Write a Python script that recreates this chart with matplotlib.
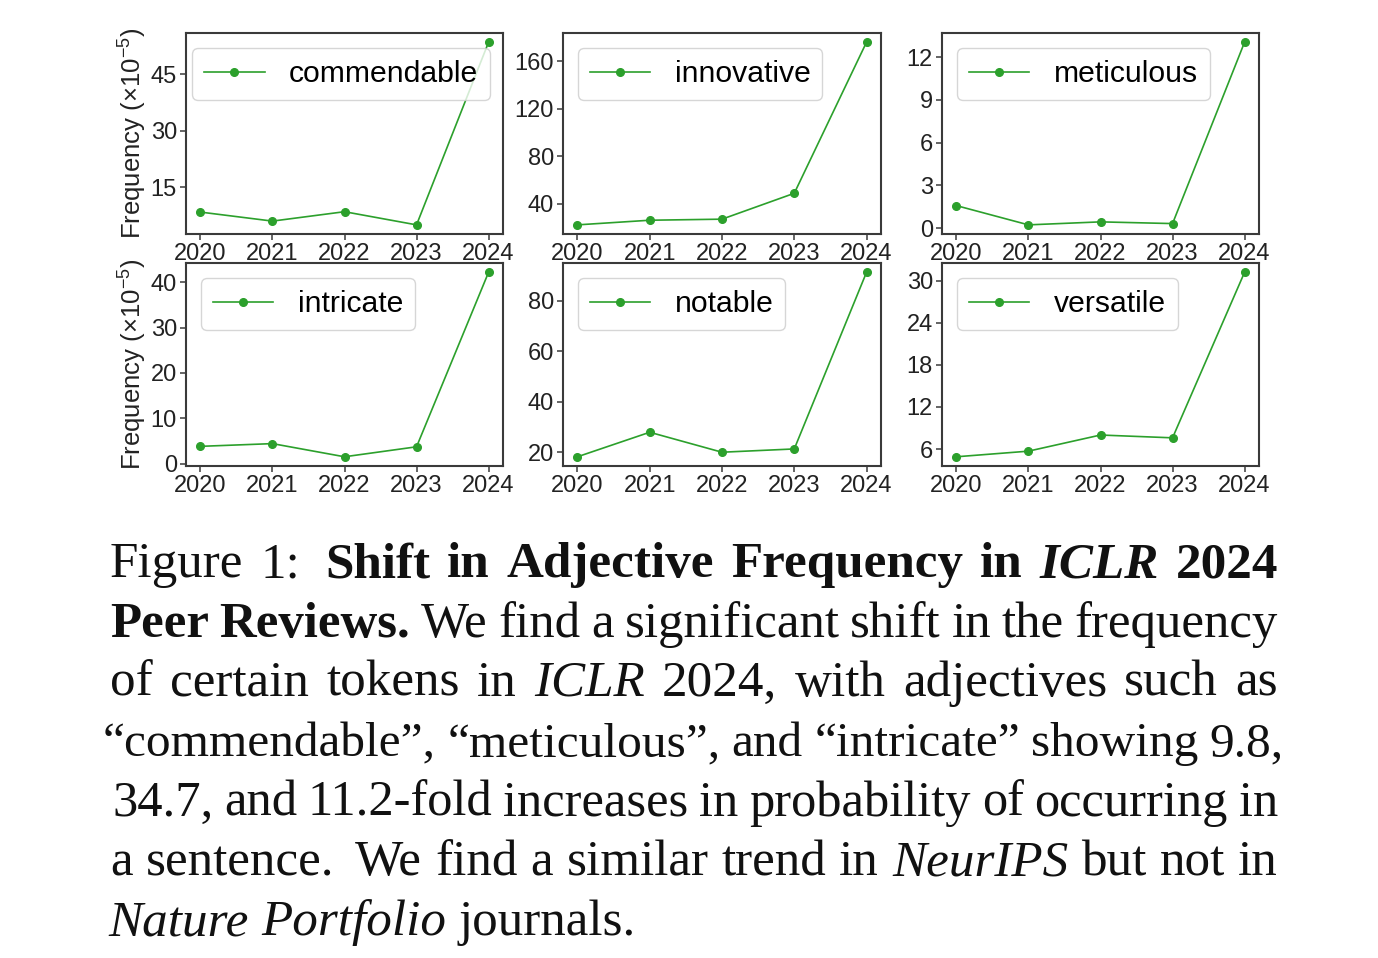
import matplotlib
matplotlib.use("Agg")
import matplotlib.pyplot as plt

# ---------------- data ----------------
years = [2020, 2021, 2022, 2023, 2024]
words = ["commendable", "innovative", "meticulous", "intricate", "notable", "versatile"]
commendable = [8.4, 6.0, 8.5, 5.0, 53.6]
innovative = [22.4, 26.3, 27.2, 49.0, 176.3]
meticulous = [1.58, 0.23, 0.44, 0.32, 13.05]
intricate = [3.8, 4.4, 1.5, 3.7, 42.2]
notable = [18.3, 28.0, 20.1, 21.4, 91.3]
versatile = [4.9, 5.7, 8.0, 7.6, 31.2]
series = [commendable, innovative, meticulous, intricate, notable, versatile]
yticks = [[15, 30, 45], [40, 80, 120, 160], [0, 3, 6, 9, 12],
          [0, 10, 20, 30, 40], [20, 40, 60, 80], [6, 12, 18, 24, 30]]
ylabel = r"Frequency ($\times10^{-5}$)"

caption_lines = [
    [("Figure", "r"), ("1:", "r"), ("Shift", "b"), ("in", "b"), ("Adjective", "b"),
     ("Frequency", "b"), ("in", "b"), ("ICLR", "bi"), ("2024", "b")],
    [("Peer", "b"), ("Reviews.", "b"), ("We", "r"), ("find", "r"), ("a", "r"),
     ("significant", "r"), ("shift", "r"), ("in", "r"), ("the", "r"), ("frequency", "r")],
    [("of", "r"), ("certain", "r"), ("tokens", "r"), ("in", "r"), ("ICLR", "i"),
     ("2024,", "r"), ("with", "r"), ("adjectives", "r"), ("such", "r"), ("as", "r")],
    [("\u201ccommendable\u201d,", "r"), ("\u201cmeticulous\u201d,", "r"), ("and", "r"),
     ("\u201cintricate\u201d", "r"), ("showing", "r"), ("9.8,", "r")],
    [("34.7,", "r"), ("and", "r"), ("11.2-fold", "r"), ("increases", "r"), ("in", "r"),
     ("probability", "r"), ("of", "r"), ("occurring", "r"), ("in", "r")],
    [("a", "r"), ("sentence.", "r"), ("We", "r"), ("find", "r"), ("a", "r"),
     ("similar", "r"), ("trend", "r"), ("in", "r"), ("NeurIPS", "i"), ("but", "r"),
     ("not", "r"), ("in", "r")],
    [("Nature", "i"), ("Portfolio", "i"), ("journals.", "r")],
]

# ---------------- style ----------------
W, H = 1378, 958
plt.rcParams["font.family"] = ["Liberation Sans", "DejaVu Sans"]
plt.rcParams["mathtext.fontset"] = "custom"
plt.rcParams["mathtext.rm"] = "Liberation Sans"
plt.rcParams["mathtext.it"] = "Liberation Sans:italic"
plt.rcParams["mathtext.bf"] = "Liberation Sans:bold"

fig = plt.figure(figsize=(W / 100, H / 100), dpi=100)
fig.patch.set_facecolor("white")

cols = [(186, 503), (563, 881), (942, 1259)]
rows = [(33, 234), (263, 466)]
spine_c = "#3a3a3a"

for i, (word, vals) in enumerate(zip(words, series)):
    r, c = divmod(i, 3)
    x0, x1 = cols[c]
    t, b = rows[r]
    ax = fig.add_axes([x0 / W, 1 - b / H, (x1 - x0) / W, (b - t) / H])
    ax.plot(years, vals, color="#2ca02c", lw=1.2, marker="o", markersize=5.5, label=word)
    ax.set_xticks(years)
    ax.set_yticks(yticks[i])
    ax.tick_params(labelsize=17, color=spine_c, labelcolor="#222222", length=4,
                   width=1.1, pad=2.5)
    for s in ax.spines.values():
        s.set_color(spine_c)
        s.set_linewidth(1.5)
    if c == 0:
        ax.set_ylabel(ylabel, fontsize=18.5, color="#222222", labelpad=1)
    anchor = (-0.028, 1.0) if i == 0 else (0.0, 1.0)
    ax.legend(loc="upper left", bbox_to_anchor=anchor, fontsize=21.7, handlelength=2.0)

# ---------------- caption ----------------
CAP_FS = 36.8
renderer = fig.canvas.get_renderer()


def make_text(word, st, fs):
    return fig.text(0, 0, word, fontsize=fs, family="Liberation Serif",
                    weight="bold" if "b" in st else "normal",
                    style="italic" if "i" in st else "normal",
                    va="baseline", ha="left", color="#111111")


def width_of(t):
    return t.get_window_extent(renderer).width


def space_width(fs):
    pa = make_text("ab", "r", fs)
    pb = make_text("a b", "r", fs)
    w = width_of(pb) - width_of(pa)
    pa.remove()
    pb.remove()
    return w


baselines = [577, 637, 696, 756, 816, 875, 935]
extents = [(110, 1278), (110, 1278), (110, 1278), (103, 1284), (112, 1278),
           (110, 1278), (108, None)]
wide_gap = {(0, 1): 1.5, (5, 1): 1.6}

for li, tokens in enumerate(caption_lines):
    xs, xe = extents[li]
    weights = [wide_gap.get((li, k), 1.0) for k in range(len(tokens) - 1)]
    fs = CAP_FS
    while True:
        texts = [make_text(w, st, fs) for w, st in tokens]
        widths = [width_of(t) for t in texts]
        sw = space_width(fs)
        if xe is None:
            unit = sw
            break
        unit = (xe - xs - sum(widths)) / sum(weights)
        if unit >= 0.8 * sw or fs < 30:
            break
        for t in texts:
            t.remove()
        fs -= 0.2
    x = xs
    y = baselines[li]
    for k, (t, wdt) in enumerate(zip(texts, widths)):
        t.set_position((x / W, 1 - y / H))
        x += wdt
        if k < len(weights):
            x += unit * weights[k]

fig.savefig("out.png", dpi=100, facecolor="white")
